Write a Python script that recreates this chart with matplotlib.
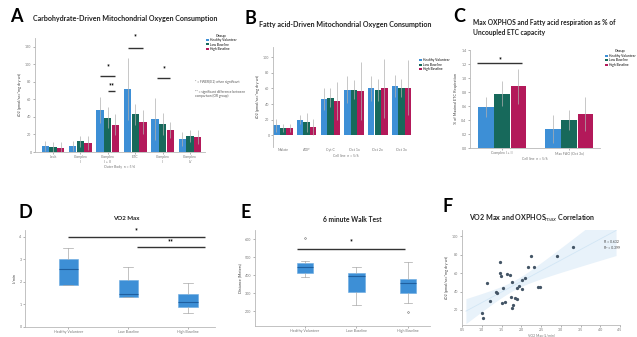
import matplotlib
matplotlib.use("Agg")
import matplotlib.pyplot as plt
import numpy as np

plt.rcParams['font.family'] = ['Lato', 'DejaVu Sans']

# ---- data ----
groups = ["Healthy Volunteer", "Low Baseline", "High Baseline"]
colors = ["#3d8fd6", "#17695b", "#b3195a"]

a_cats = ["Leak", "Complex\nI", "Complex\nI + II", "ETC", "Complex\nII", "Complex\nIV"]
a_mean = [[7, 7, 47.6, 72, 38, 15],
          [5.7, 12, 39, 43, 32, 18],
          [4.6, 10, 31, 34, 25, 17]]
a_err = [[6, 6, 15, 35, 24, 8],
         [5.3, 6, 12, 12, 13, 7],
         [6.4, 8, 12, 14, 9, 8]]

b_cats = ["Malate", "ADP", "Cyt C", "Oct 1x", "Oct 2x", "Oct 3x"]
b_mean = [[12.8, 20, 46, 58.5, 60, 63],
          [9.8, 16.6, 48, 58.5, 58.5, 61],
          [9.4, 10.7, 44, 57, 60, 61]]
b_err = [[8, 5.6, 14, 17, 15.6, 14],
         [5, 12, 12, 12, 14, 11.6],
         [5.6, 10.3, 24, 37, 38, 35]]

c_cats = ["Complex I + II", "Max FAO (Oct 3x)"]
c_mean = [[0.588, 0.27], [0.778, 0.40], [0.88, 0.486]]
c_err = [[0.14, 0.20], [0.18, 0.146], [0.254, 0.24]]

box_labels = ["Healthy Volunteer", "Low Baseline", "High Baseline"]
vo2_q1 = [1.87, 1.33, 0.90]
vo2_med = [2.56, 1.47, 1.13]
vo2_q3 = [3.02, 2.09, 1.47]
vo2_lo = [1.85, 1.33, 0.62]
vo2_hi = [3.50, 2.67, 1.96]

walk_q1 = [413, 307, 302]
walk_med = [446, 394, 357]
walk_q3 = [468, 409, 376]
walk_lo = [390, 233, 246]
walk_hi = [480, 446, 474]
walk_out = [[604], [], [196]]

f_vo2 = [3.30, 2.90, 2.25, 2.18, 2.33, 1.46, 1.46, 1.65, 1.72, 1.49, 2.09, 2.01,
         1.76, 1.95, 1.88, 2.01, 2.43, 2.47, 1.13, 1.36, 1.55, 1.38, 1.73, 1.84,
         1.88, 1.21, 1.50, 1.80, 1.76, 1.00, 1.04, 1.59]
f_jo2 = [88.1, 78.3, 79.0, 66.2, 66.2, 71.7, 60.1, 59.0, 58.3, 57.2, 54.6, 52.8,
         50.9, 46.2, 43.7, 42.6, 45.5, 44.8, 49.2, 40.0, 44.4, 38.3, 34.5, 32.8,
         31.7, 29.8, 27.3, 25.5, 21.9, 16.4, 10.9, 29.1]

W, H = 637, 337
fig = plt.figure(figsize=(W / 100, H / 100), dpi=100)
fig.patch.set_facecolor("white")

SP = "#b8b8b8"
TK = "#777777"


def ax_at(l, t, r, b):
    ax = fig.add_axes([l / W, 1 - b / H, (r - l) / W, (b - t) / H])
    for s in ["top", "right"]:
        ax.spines[s].set_visible(False)
    for s in ["left", "bottom"]:
        ax.spines[s].set_color(SP)
        ax.spines[s].set_linewidth(0.6)
    ax.tick_params(labelsize=2.6, colors=TK, length=1.5, width=0.4, pad=1)
    ax.set_facecolor("white")
    return ax


def letter(x, y, s):
    fig.text(x / W, 1 - y / H, s, fontsize=13, fontweight="bold", ha="left", va="center")


def title(x, y, s, ha="left", size=5.1):
    fig.text(x / W, 1 - y / H, s, fontsize=size, fontweight="bold", color="#222222",
             ha=ha, va="center")


def bars(ax, cats, means, errs, w):
    x = np.arange(len(cats))
    for i in range(3):
        ax.bar(x + (i - 1) * w, means[i], w * 0.96, color=colors[i], label=groups[i],
               yerr=errs[i], error_kw=dict(ecolor="#b0b0b0", elinewidth=0.5, capsize=0))
    ax.set_xticks(x)
    ax.set_xticklabels(cats)
    return x


def sig(ax, x0, x1, y, ys, s):
    ax.plot([x0, x1], [y, y], color="#333333", lw=1.0, clip_on=False, solid_capstyle="butt")
    ax.text((x0 + x1) / 2, ys, s, fontsize=5, fontweight="bold", ha="center", va="center")


# ---- A ----
letter(10, 16, "A")
title(33, 18, "Carbohydrate-Driven Mitochondrial Oxygen Consumption")
axA = ax_at(35, 38, 205, 152)
bars(axA, a_cats, a_mean, a_err, 0.28)
axA.set_xlim(-0.66, 5.55)
axA.set_ylim(0, 130)
axA.set_yticks(range(0, 121, 20))
axA.set_ylabel("JO2 (pmol/sec*mg dry wt)", fontsize=2.8, color="#444444", labelpad=2)
axA.set_xlabel("Outer Body  n = 5/6", fontsize=2.5, color=TK, labelpad=1)
sig(axA, 1.72, 2.28, 87, 97, "*")
sig(axA, 2.0, 2.28, 70, 75.5, "**")
sig(axA, 2.72, 3.28, 119, 131, "*")
sig(axA, 3.8, 4.28, 84.6, 95, "*")
axA.text(5.2, 80, "* = FWER(0.2) when significant", fontsize=2.3, color="#555555", va="center")
axA.text(5.2, 66, "** = significant difference between\ncomparison (OR group)", fontsize=2.3,
         color="#555555", va="center")
axA.legend(title="Group", fontsize=2.3, title_fontsize=2.8, frameon=False,
           loc="upper left", bbox_to_anchor=(1.0, 1.05), handlelength=0.8,
           handleheight=0.6, labelspacing=0.15, borderaxespad=0, handletextpad=0.4)

# ---- B ----
letter(244, 18, "B")
title(259, 25, "Fatty acid-Driven Mitochondrial Oxygen Consumption")
axB = ax_at(273, 47, 418, 147)
bars(axB, b_cats, b_mean, b_err, 0.28)
axB.set_xlim(-0.42, 5.7)
axB.set_ylim(-15, 113)
axB.set_yticks(range(0, 101, 20))
axB.spines["bottom"].set_visible(False)
axB.axhline(-15, color=SP, lw=0.6)
axB.tick_params(axis="x", length=0)
axB.set_ylabel("JO2 (pmol/sec*mg dry wt)", fontsize=2.8, color="#444444", labelpad=2)
axB.set_xlabel("Cell line  n = 5/6", fontsize=2.5, color=TK, labelpad=1)
axB.legend(fontsize=2.3, frameon=False, loc="upper left", bbox_to_anchor=(1.0, 0.9),
           handlelength=0.8, handleheight=0.6, labelspacing=0.15, borderaxespad=0,
           handletextpad=0.4)

# ---- C ----
letter(453, 17, "C")
title(473, 23, "Max OXPHOS and Fatty acid respiration as % of", size=4.75)
title(473, 32, "Uncoupled ETC capacity", size=4.75)
axC = ax_at(470, 50, 600, 148)
bars(axC, c_cats, c_mean, c_err, 0.24)
axC.set_xlim(-0.48, 1.46)
axC.set_ylim(0, 1.36)
axC.set_yticks(np.arange(0, 1.41, 0.2))
axC.set_yticklabels([f"{v:.1f}" for v in np.arange(0, 1.41, 0.2)])
axC.set_ylabel("% of Maximal ETC Respiration", fontsize=2.8, color="#444444", labelpad=2)
axC.set_xlabel("Cell line  n = 5/6", fontsize=2.5, color=TK, labelpad=1)
sig(axC, -0.37, 0.30, 1.21, 1.26, "*")
axC.legend(title="Group", fontsize=2.3, title_fontsize=2.8, frameon=False, loc="upper left",
           bbox_to_anchor=(1.03, 1.02), handlelength=0.8, handleheight=0.6,
           labelspacing=0.15, borderaxespad=0, handletextpad=0.4)


def boxes(ax, q1, med, q3, lo, hi, outs=None):
    stats = []
    for i in range(len(med)):
        stats.append(dict(q1=q1[i], med=med[i], q3=q3[i], whislo=lo[i], whishi=hi[i],
                          fliers=outs[i] if outs else []))
    ax.bxp(stats, positions=range(len(med)), widths=0.32, patch_artist=True,
           boxprops=dict(facecolor="#3d8fd6", edgecolor="#6aaae0", lw=0.4),
           medianprops=dict(color="#1f5f9f", lw=0.8),
           whiskerprops=dict(color="#aaaaaa", lw=0.5),
           capprops=dict(color="#aaaaaa", lw=0.5),
           flierprops=dict(marker="o", markersize=1.2, markerfacecolor="none",
                           markeredgecolor="#666666", markeredgewidth=0.4))
    ax.set_xticks(range(len(med)))
    ax.set_xticklabels(box_labels)


# ---- D ----
letter(18, 213, "D")
title(126, 218, "VO2 Max", ha="center", size=4.4)
axD = ax_at(25, 230, 215, 327)
boxes(axD, vo2_q1, vo2_med, vo2_q3, vo2_lo, vo2_hi)
axD.set_xlim(-0.72, 2.45)
axD.set_ylim(0, 4.3)
axD.set_yticks(range(0, 5))
axD.set_ylabel("L/min", fontsize=2.8, color="#444444", labelpad=2)
sig(axD, 0, 2.28, 4.0, 4.25, "*")
sig(axD, 1.15, 2.28, 3.56, 3.8, "**")

# ---- E ----
letter(241, 212, "E")
title(352, 220, "6 minute Walk Test", ha="center", size=4.9)
axE = ax_at(255, 230, 430, 326)
boxes(axE, walk_q1, walk_med, walk_q3, walk_lo, walk_hi, walk_out)
axE.set_xlim(-0.97, 2.43)
axE.set_ylim(117, 650)
axE.set_yticks(range(200, 601, 100))
axE.set_ylabel("Distance (Meters)", fontsize=2.8, color="#444444", labelpad=2)
sig(axE, -0.16, 1.94, 544, 583, "*")

# ---- F ----
letter(443, 207, "F")
fig.text(532 / W, 1 - 218 / H, r"VO2 Max and OXPHOS$_{max}$ Correlation", fontsize=5.1,
         fontweight="bold", color="#222222", ha="center", va="center")
axF = ax_at(462, 230, 620, 325)
fx = np.array(f_vo2)
fy = np.array(f_jo2)
k, c0 = np.polyfit(fx, fy, 1)
xs = np.linspace(0.6, 4.4, 50)
res = fy - (k * fx + c0)
s = np.sqrt(np.sum(res ** 2) / (len(fx) - 2))
band = 2 * s * np.sqrt(1 / len(fx) + (xs - fx.mean()) ** 2 / np.sum((fx - fx.mean()) ** 2))
axF.fill_between(xs, k * xs + c0 - band, k * xs + c0 + band, color="#e8f2fa", lw=0)
axF.plot(xs, k * xs + c0, color="#d2e6f5", lw=0.6)
axF.scatter(fx, fy, s=1.8, color="#445566", zorder=3)
axF.set_xlim(0.5, 4.5)
axF.set_ylim(3.6, 107)
axF.set_yticks(range(20, 101, 20))
axF.set_ylabel("JO2 (pmol/sec*mg dry wt)", fontsize=2.8, color="#444444", labelpad=2)
axF.set_xlabel("VO2 Max (L/min)", fontsize=2.5, color=TK, labelpad=1)
r = np.corrcoef(fx, fy)[0, 1]
axF.text(4.1, 91, f"R = {r:.3f}\nR² = {r * r:.3f}", fontsize=2.5, color="#444444",
         va="center", linespacing=1.6)

plt.savefig("out.png", dpi=100, facecolor="white")
